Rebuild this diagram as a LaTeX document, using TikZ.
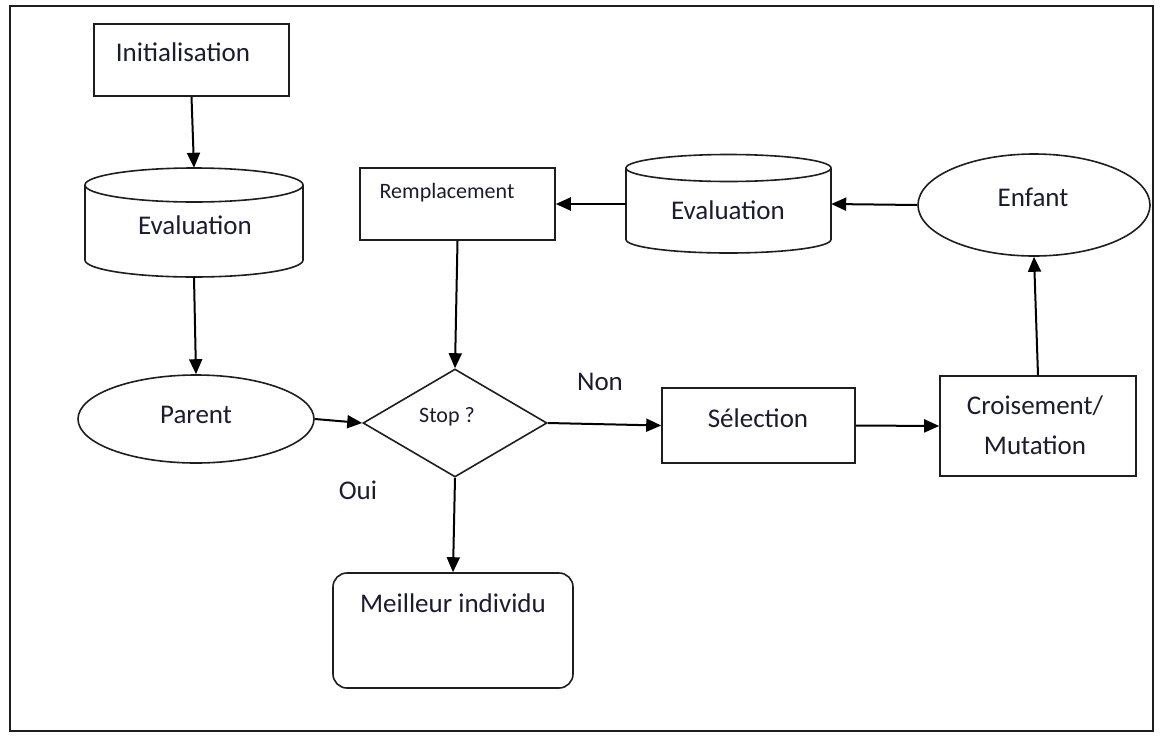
\documentclass[tikz,border=0pt]{standalone}
\usepackage{fontspec}
\setmainfont{Carlito}
\usetikzlibrary{arrows.meta,shapes.geometric}
\definecolor{ink}{RGB}{28,28,48}
\definecolor{edge}{RGB}{30,30,30}
\tikzset{
  shapeline/.style={draw=edge, line width=1.6pt},
  boxnode/.style={shapeline, rectangle, inner sep=0pt},
  ovalnode/.style={shapeline, ellipse, inner sep=0pt},
  decide/.style={shapeline, diamond, inner sep=0pt},
  roundbox/.style={shapeline, rectangle, rounded corners=14pt, inner sep=0pt},
  holder/.style={rectangle, inner sep=0pt},
  txt/.style={text=ink, font=\fontsize{27}{32}\selectfont, inner sep=0pt},
  smalltxt/.style={text=ink, font=\fontsize{22}{26}\selectfont, inner sep=0pt},
  flow/.style={draw=black, line width=2pt, -{Triangle[length=15pt,width=13pt]}},
}
% drum outline: #1 = left x, #2 = right x, #3 = top ellipse centre y,
% #4 = bottom ellipse centre y, #5 = vertical radius of the end ellipses
\newcommand{\drumoutline}[5]{%
  \draw[shapeline] (#1,#3) -- (#1,#4)
    arc[start angle=180, end angle=0, x radius={(#2-#1)/2}, y radius=#5]
    -- (#2,#3);
  \draw[shapeline] ({(#1+#2)/2},#3) ellipse[x radius={(#2-#1)/2}, y radius=#5];
}
\begin{document}
\begin{tikzpicture}[x=1pt,y=-1pt]
  \useasboundingbox (0,0) rectangle (1160,737);
  \fill[white] (0,0) rectangle (1160,737);
  % outer frame
  \draw[draw=edge, line width=1.5pt] (10,6) rectangle (1153,731);

  % start box
  \node[boxnode, minimum width=195pt, minimum height=72pt] (init) at (191.5,60) {};
  \node[txt] (init-t) at (183,52) {Initialisation};

  % first evaluation drum
  \node[holder, minimum width=218pt, minimum height=109pt] (eval1) at (194,222.5) {};
  \drumoutline{85}{303}{185}{260}{17}
  \node[txt] (eval1-t) at (195,225) {Evaluation};

  % parent population
  \node[ovalnode, minimum width=236pt, minimum height=88pt] (parent) at (196,419) {};
  \node[txt] (parent-t) at (196,415) {Parent};

  % stopping test
  \node[decide, minimum width=184pt, minimum height=108pt] (stop) at (455,423) {};
  \node[smalltxt] (stop-t) at (447,417) {Stop ?};

  % replacement
  \node[boxnode, minimum width=195pt, minimum height=72pt] (remp) at (457.5,204) {};
  \node[smalltxt] (remp-t) at (447,193) {Remplacement};

  % second evaluation drum
  \node[holder, minimum width=205pt, minimum height=98pt] (eval2) at (728.5,204) {};
  \drumoutline{626}{831}{168}{239.5}{13.5}
  \node[txt] (eval2-t) at (728,210) {Evaluation};

  % offspring
  \node[ovalnode, minimum width=232pt, minimum height=102pt] (enfant) at (1034,205) {};
  \node[txt] (enfant-t) at (1033,197) {Enfant};

  % selection
  \node[boxnode, minimum width=193pt, minimum height=75pt] (sel) at (758.5,425.5) {};
  \node[txt] (sel-t) at (758,418) {Sélection};

  % crossover / mutation
  \node[boxnode, minimum width=196pt, minimum height=100pt] (crois) at (1038,426) {};
  \node[txt, align=center, font=\fontsize{27}{40}\selectfont] (crois-t) at (1035,425) {Croisement/\\Mutation};

  % best individual
  \node[roundbox, minimum width=240pt, minimum height=115pt] (best) at (453,630.5) {};
  \node[txt] (best-t) at (453,603) {Meilleur individu};

  % branch labels
  \node[txt] (non) at (600,382) {Non};
  \node[txt] (oui) at (358,490) {Oui};

  % connectors
  \draw[flow] (init.south) -- (eval1.north);
  \draw[flow] (eval1.south) -- (parent.north);
  \draw[flow] (parent.east) -- (stop.west);
  \draw[flow] (remp.south) -- (stop.north);
  \draw[flow] (stop.east) -- (sel.west);
  \draw[flow] (sel.east) -- (crois.west);
  \draw[flow] (crois.north) -- (enfant.south);
  \draw[flow] (enfant.west) -- (eval2.east);
  \draw[flow] (eval2.west) -- (remp.east);
  \draw[flow] (stop.south) -- (best.north);
\end{tikzpicture}
\end{document}
